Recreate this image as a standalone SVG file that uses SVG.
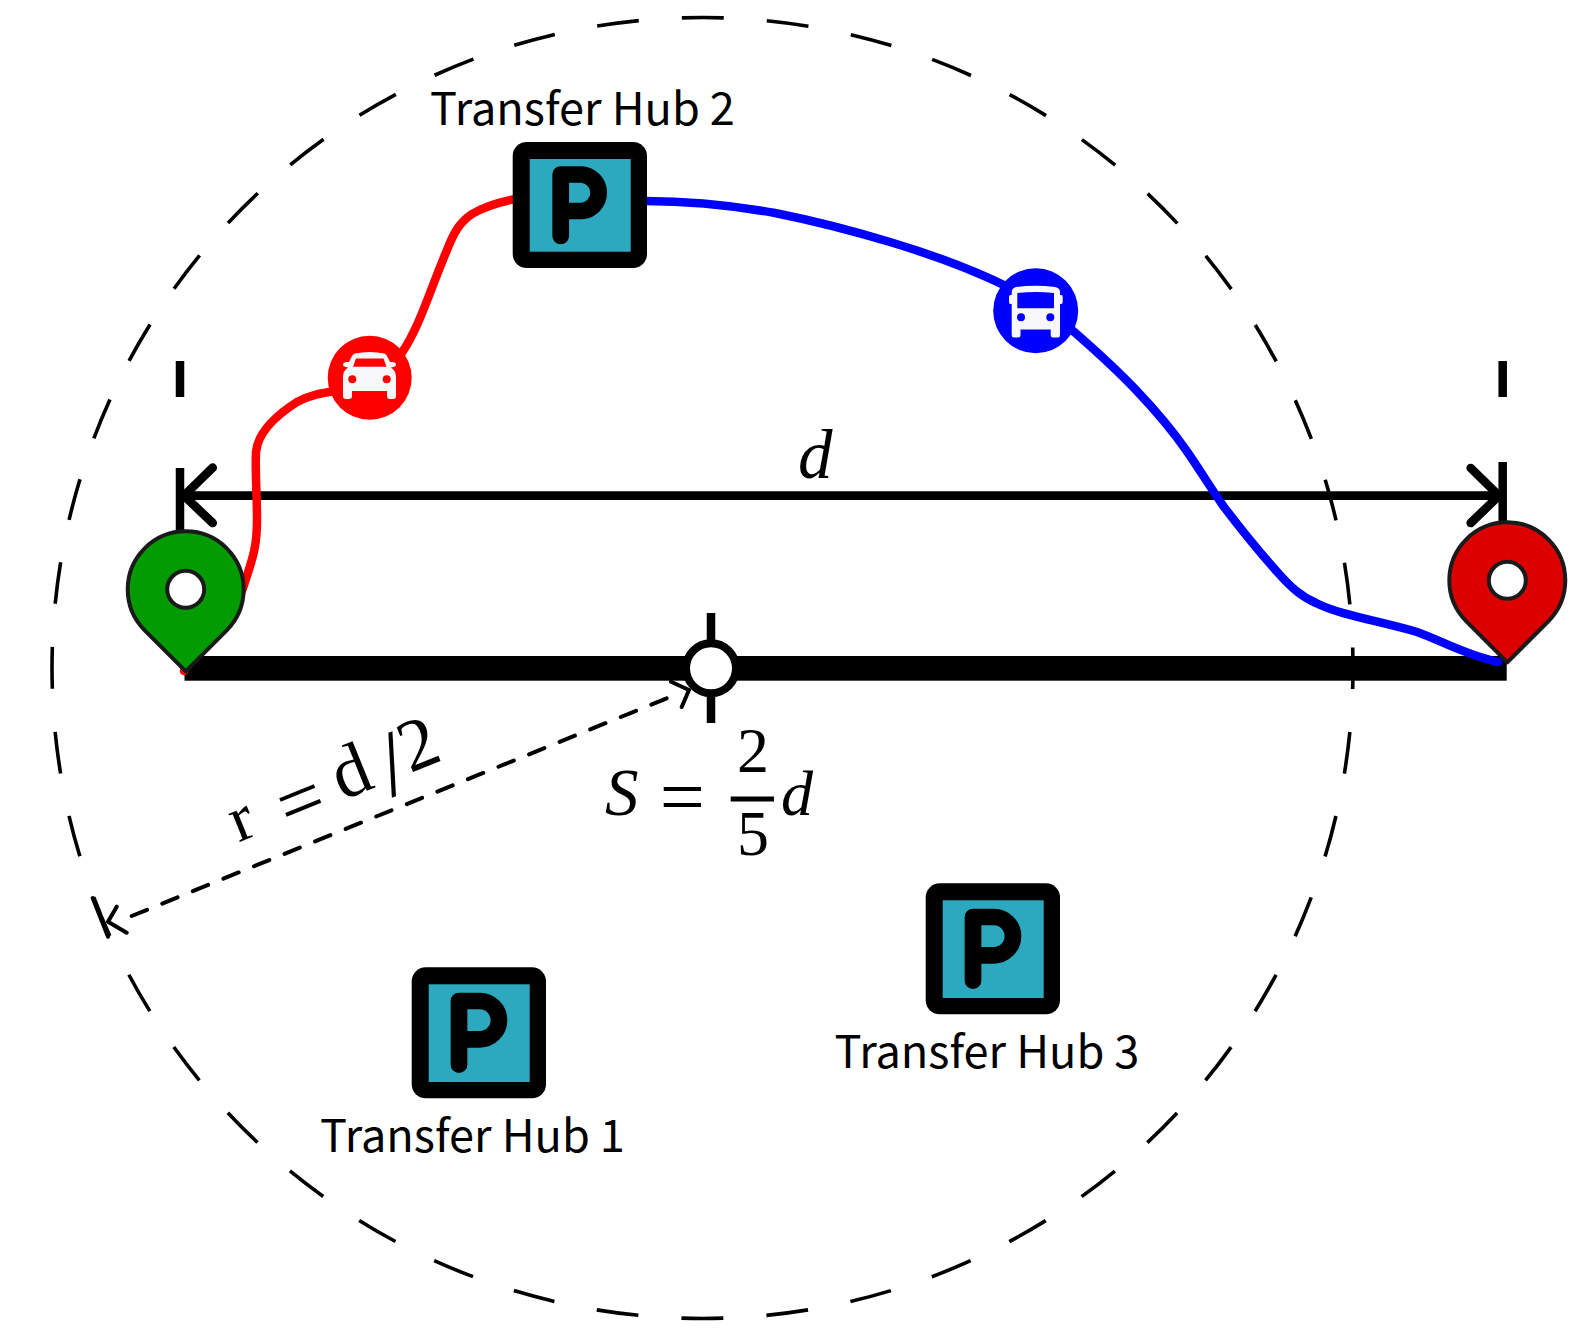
<svg xmlns="http://www.w3.org/2000/svg" width="1577" height="1331" viewBox="0 0 1577 1331">
<style>
.lbl{font-family:"Noto Sans CJK SC","Noto Sans",sans-serif;font-size:45.1px;fill:#000}
.m{font-family:"Liberation Serif",serif;font-size:64px;fill:#000}
.i{font-style:italic}
.pin{stroke:#1a1a1a;stroke-width:4;stroke-linejoin:round}
.hole{fill:#fff;stroke:#1a1a1a;stroke-width:4}
.tk{stroke:#000;stroke-width:8.5;fill:none}
.head{stroke:#000;stroke-width:8.7;fill:none;stroke-linecap:round;stroke-linejoin:miter}
.thin{stroke:#000;stroke-width:4;fill:none;stroke-linecap:round}
.route{fill:none;stroke-width:8.5;stroke-linecap:round;stroke-linejoin:round}
.p{fill:none;stroke:#000;stroke-width:16.7;stroke-linecap:round;stroke-linejoin:round}
</style>
<defs>
<g id="hubTall">
<rect x="411.7" y="967.3" width="134.3" height="131" rx="14" fill="#000"/>
<rect x="428.7" y="984.3" width="101" height="97.7" fill="#2ca8bf"/>
<path class="p" d="M459,1064.7V1001H479.8A19.15,19.15 0 0 1 479.8,1039.3H459"/>
</g>
<path id="pinshape" d="M0,82L-41,41A58,58 0 1 1 41,41Z"/>
</defs>
<g id="connectors">
<rect x="184.5" y="656" width="1322.2" height="24.7" fill="#000"/>
<circle cx="702.5" cy="668" r="650.5" fill="none" stroke="#000" stroke-width="3.6" stroke-dasharray="42 43.15" stroke-dashoffset="21"/>
<path class="tk" d="M180,361V397M180,468V535M1502.7,361V397M1502.7,462V528"/>
<path d="M182,495.7H1498" stroke="#000" stroke-width="8.7" fill="none"/>
<path class="head" d="M212.7,467.7L184,495.7L212.7,523M1470.7,468L1499,495.7L1470.7,523"/>
<path class="route" stroke="#ff0000" d="M184,671C200,640 234,620 245,582C252,560 257,548 257,520C257,495 255,470 256,452C258,432 275,416 297,402C310,395 322,393 335,391"/>
<path class="route" stroke="#ff0000" d="M401.7,353C420,326 430,290 447,250C454,232 460,222 472,214C485,206 500,202 515,199"/>
<path class="route" stroke="#0000ff" d="M645,201C690,201 730,205 775,213C815,221 850,230 890,242C930,254 970,268 1010,288"/>
<path class="route" stroke="#0000ff" d="M1072,330C1095,350 1115,368 1136,390C1155,410 1170,427 1186,450C1198,467 1210,487 1224,507C1240,528 1260,553 1280,575C1290,586 1300,596 1316,603C1340,615 1375,620 1417,632C1440,640 1465,655 1498,662"/>
<path class="thin" stroke-dasharray="16.5 16.5" stroke-linecap="butt" d="M131.7,916L666.7,698.3"/>
<path class="thin" d="M671,681.7L689,690L681.7,707M116.7,906.7L108,921.7L126.7,932.7M92.7,898L108,936.7" stroke-linejoin="round"/>
</g>
<g id="car">
<circle cx="369.7" cy="377.7" r="42" fill="#ff0000"/>
<path fill="#f8f8fb" d="M355,353.5Q369.7,350.5 384.5,353.5Q387,354.5 388,358L390,362H393Q396,362.5 396,365Q396,366.5 393,367L391,367.5Q396,371 396,377V396Q396,399 393,399H390Q387,399 387,396V391H352V396Q352,399 349,399H346Q343,399 343,396V377Q343,371 348,367.5L346,367Q343,366.5 343,365Q343,362.5 346,362H349L351,358Q352,354.5 355,353.5Z"/>
<path fill="#ff0000" d="M356,358.5H383.5L386.5,366.7H353Z"/>
<circle cx="352.3" cy="379.3" r="4" fill="#ff0000"/><circle cx="386.7" cy="379.3" r="4" fill="#ff0000"/>
</g>
<g id="bus">
<circle cx="1035.7" cy="310.7" r="42.5" fill="#0000ff"/>
<path fill="#f8f8fb" d="M1016,287Q1035.7,284.5 1055,287Q1060,288 1060,292V295H1061Q1062.7,295 1062.7,297V302Q1062.7,304 1061,304H1060V335Q1060,337.5 1058,337.5H1053Q1050.7,337.5 1050.7,335V329.5H1020.5V335Q1020.5,337.5 1018,337.5H1014Q1011.7,337.5 1011.7,335V304H1010.5Q1009,304 1009,302V297Q1009,295 1010.5,295H1011.7V292Q1012,288 1016,287Z"/>
<path fill="#0000ff" d="M1017.3,293Q1035.7,291 1054,293V308.3H1017.3Z"/>
<circle cx="1021" cy="317.3" r="4" fill="#0000ff"/><circle cx="1050.3" cy="317.3" r="4" fill="#0000ff"/>
</g>
<g id="hub2">
<rect x="512.7" y="142" width="134.3" height="126" rx="14" fill="#000"/>
<rect x="529.7" y="159" width="101" height="92.7" fill="#2ca8bf"/>
<path class="p" d="M560.7,236V174.5H581.7A18.3,18.3 0 0 1 581.7,211H560.7"/>
<text class="lbl" x="430" y="125">Transfer Hub 2</text></g>
<g id="hub1"><use href="#hubTall"/><text class="lbl" x="320" y="1151.7">Transfer Hub 1</text></g>
<g id="hub3"><use href="#hubTall" x="514" y="-84"/><text class="lbl" x="834.5" y="1068.3">Transfer Hub 3</text></g>
<g id="origin"><use href="#pinshape" x="185.7" y="589.3" class="pin" fill="#029c02"/><circle class="hole" cx="185.7" cy="589.3" r="18.5"/></g>
<g id="destination"><use href="#pinshape" x="1507.3" y="580.3" class="pin" fill="#dd0000"/><circle class="hole" cx="1507.3" cy="580.3" r="18.5"/></g>
<g id="center">
<path d="M711,613V723" stroke="#000" stroke-width="8.5"/>
<circle cx="711" cy="668.3" r="25" fill="#fff" stroke="#000" stroke-width="8"/>
</g>
<g id="math">
<text class="m i" x="798" y="478" style="font-size:69px">d</text>
<text class="m i" x="605" y="815" style="font-size:67px">S</text>
<text class="m" x="659.7" y="824" style="font-size:80px">=</text>
<text class="m" x="737" y="771.7">2</text>
<path d="M730.7,799H774" stroke="#000" stroke-width="5"/>
<text class="m" x="737" y="855">5</text>
<text class="m i" x="781" y="815">d</text>
<text class="m" style="font-size:74px" transform="translate(231,845.6) rotate(-22)"><tspan x="8" style="font-size:66px">r</tspan><tspan x="58.5" y="10.6" style="font-size:80px">=</tspan><tspan x="120" y="0">d</tspan><tspan x="167" y="15" style="font-size:92px">/</tspan><tspan x="193" y="0">2</tspan></text>
</g>
</svg>
